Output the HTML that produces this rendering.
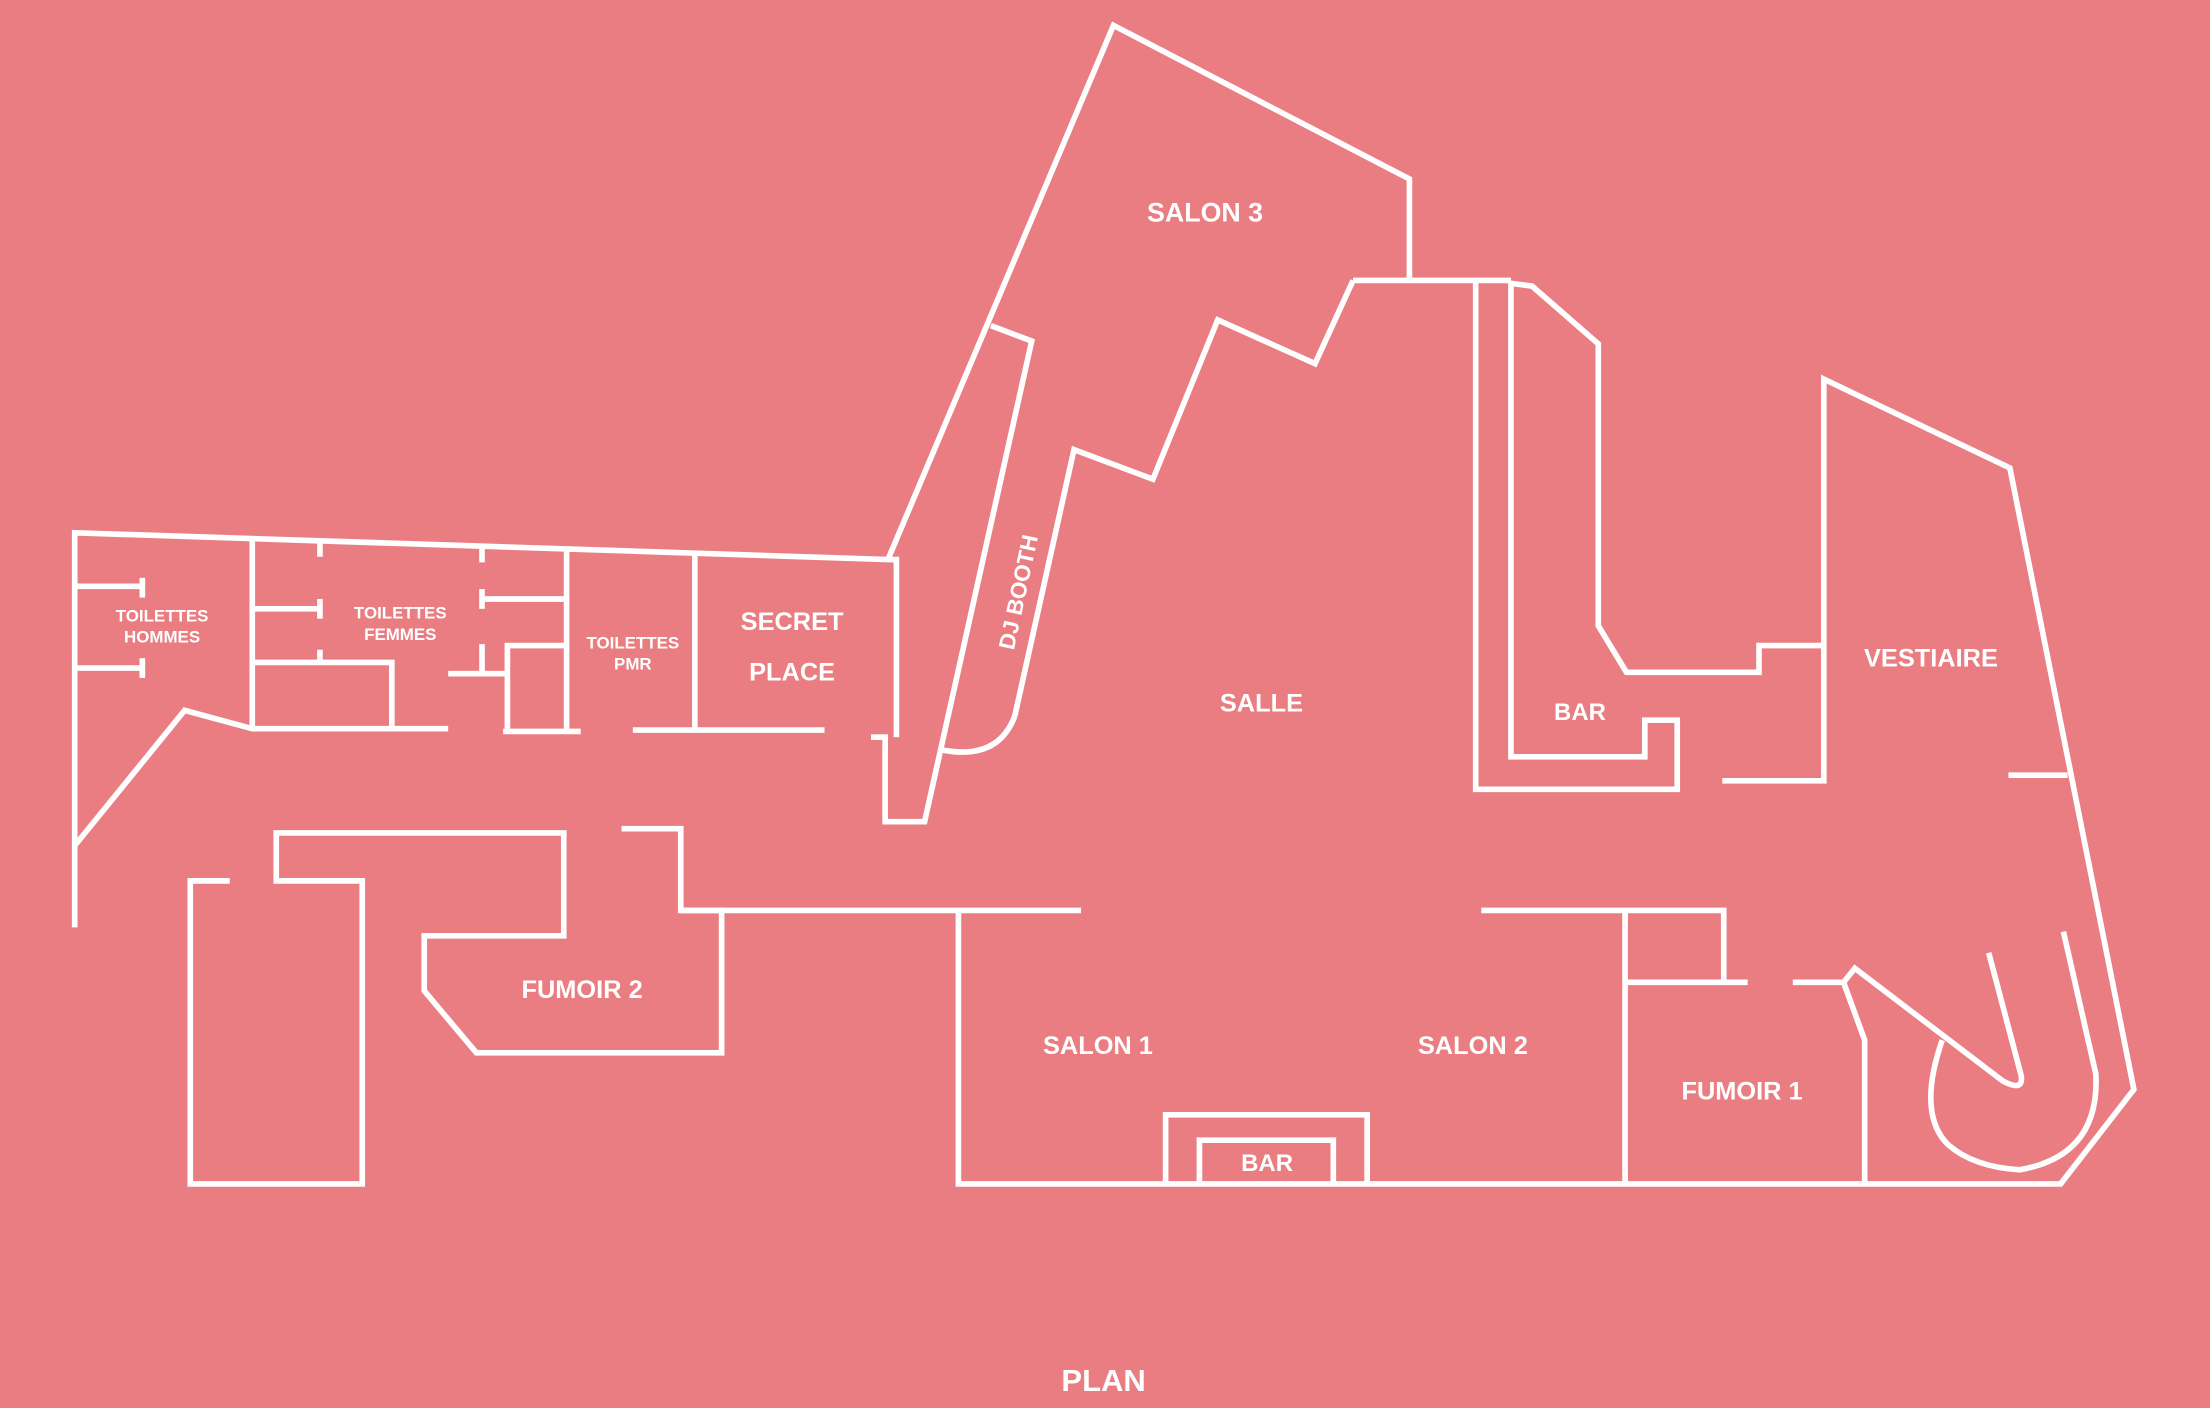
<!DOCTYPE html>
<html><head><meta charset="utf-8"><style>
html,body{margin:0;padding:0;background:#EA7D81;}
svg{display:block}
text{font-family:"Liberation Sans",sans-serif;font-weight:bold;fill:#fff;text-anchor:middle;}
</style></head><body>
<svg width="2210" height="1408" viewBox="0 0 1568 999" preserveAspectRatio="none" xmlns="http://www.w3.org/2000/svg">
<rect width="1568" height="999" fill="#EA7D81"/>
<g fill="none" stroke="#fff" stroke-width="4" stroke-linejoin="miter">
<!-- Salon 3 / DJ booth -->
<polyline points="630,397 790,18 1000,127 1000,199"/>
<line x1="960" y1="199" x2="1072" y2="199"/>
<polyline points="960,199 933,258 864,227 818,340 762,319 720,508"/>
<path d="M720,508 Q708,540 668,532"/>
<polyline points="703,231 732,242 656,583 628,583 628,523 618,523"/>
<polyline points="636,523 636,397 630,397"/>
<!-- top left building -->
<polyline points="630,397 53,378 53,658"/>
<polyline points="53,600 131,504 179,517 318,517"/>
<line x1="179" y1="381" x2="179" y2="517"/>
<line x1="53" y1="416" x2="101" y2="416"/><line x1="101" y1="410" x2="101" y2="424"/>
<line x1="53" y1="474" x2="101" y2="474"/><line x1="101" y1="467" x2="101" y2="481"/>
<line x1="179" y1="432" x2="227" y2="432"/><line x1="227" y1="425" x2="227" y2="439"/>
<polyline points="179,470 278,470 278,517"/><line x1="227" y1="461" x2="227" y2="470"/>
<line x1="227" y1="383" x2="227" y2="395"/><line x1="342" y1="387" x2="342" y2="399"/>
<line x1="342" y1="425" x2="402" y2="425"/><line x1="342" y1="418" x2="342" y2="432"/>
<line x1="342" y1="457" x2="342" y2="478"/>
<line x1="318" y1="478" x2="360" y2="478"/>
<polyline points="360,517 360,458 402,458"/>
<line x1="357" y1="519" x2="412" y2="519"/>
<line x1="402" y1="390" x2="402" y2="519"/>
<line x1="493" y1="393" x2="493" y2="519"/>
<line x1="449" y1="518" x2="585" y2="518"/>
<!-- bottom left -->
<polyline points="163,625 135,625 135,840 257,840 257,625 196,625 196,591 400,591 400,664 301,664 301,703 338,747 512,747 512,646 483,646 483,588 441,588"/>
<line x1="483" y1="646" x2="767" y2="646"/>
<!-- right main -->
<polyline points="680,646 680,840 1462,840 1514,773 1426,332 1294,269 1294,554 1222,554"/>
<polyline points="1294,458 1248,458 1248,477 1154,477 1134,444 1134,244 1087,203 1072,201 1072,537 1167,537 1167,511 1190,511 1190,560 1047,560 1047,199"/>
<line x1="1425" y1="550" x2="1467" y2="550"/>
<polyline points="1051,646 1223,646 1223,697 1240,697"/>
<line x1="1153" y1="646" x2="1153" y2="840"/>
<line x1="1153" y1="697" x2="1223" y2="697"/>
<polyline points="1272,697 1308,697 1323,738 1323,840"/>
<path d="M1308,697 L1316,687 L1421,767 Q1436,775 1434,763 L1411,676"/>
<path d="M1378,738 Q1360,790 1382,812 Q1400,828 1433,830 Q1490,820 1487,762 L1464,661"/>
<polyline points="827,840 827,791 970,791 970,840"/>
<polyline points="851,840 851,809 946,809 946,840"/>
</g>
<g>
<text x="855" y="157" font-size="19">SALON 3</text>
<text x="115" y="441" font-size="12">TOILETTES</text>
<text x="115" y="456" font-size="12">HOMMES</text>
<text x="284" y="439" font-size="12">TOILETTES</text>
<text x="284" y="454" font-size="12">FEMMES</text>
<text x="449" y="460" font-size="12">TOILETTES</text>
<text x="449" y="475" font-size="12">PMR</text>
<text x="562" y="447" font-size="18">SECRET</text>
<text x="562" y="483" font-size="18">PLACE</text>
<text x="0" y="0" font-size="16" transform="translate(722,420) rotate(-78)" dy="6">DJ BOOTH</text>
<text x="895" y="505" font-size="18">SALLE</text>
<text x="1121" y="511" font-size="17">BAR</text>
<text x="1370" y="473" font-size="18">VESTIAIRE</text>
<text x="413" y="708" font-size="18">FUMOIR 2</text>
<text x="779" y="748" font-size="18">SALON 1</text>
<text x="1045" y="748" font-size="18">SALON 2</text>
<text x="1236" y="780" font-size="18">FUMOIR 1</text>
<text x="899" y="831" font-size="17">BAR</text>
<text x="783" y="987" font-size="22">PLAN</text>
</g>
</svg>
</body></html>
